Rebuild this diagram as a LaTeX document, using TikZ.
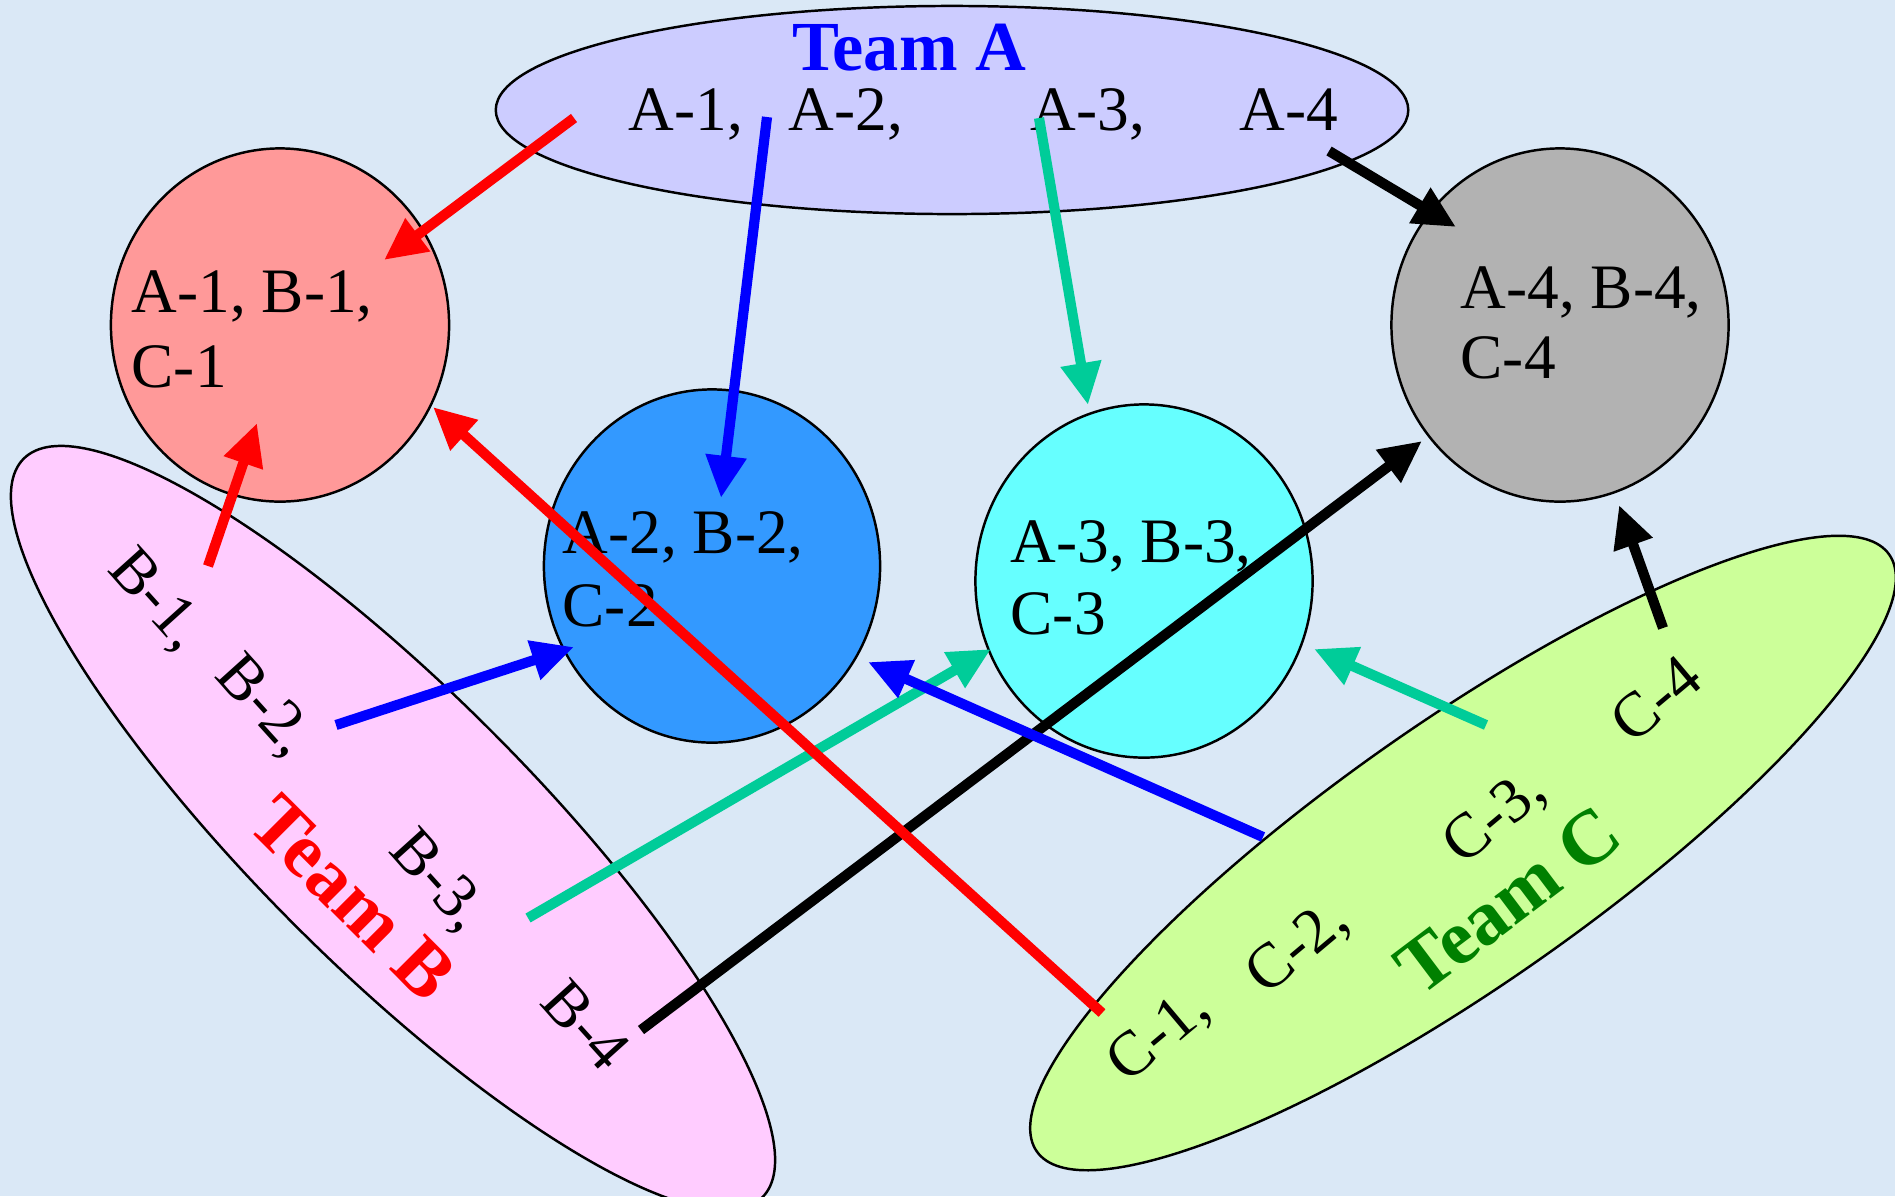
\documentclass[tikz,border=0pt]{standalone}
\usepackage{fontspec}
\setmainfont{Liberation Serif}
\usetikzlibrary{shapes.geometric,arrows.meta}
\definecolor{bgc}{RGB}{218,232,246}
\definecolor{teamAc}{RGB}{204,204,255}
\definecolor{teamBc}{RGB}{255,204,255}
\definecolor{teamCc}{RGB}{204,255,153}
\definecolor{pinkc}{RGB}{255,153,153}
\definecolor{bluec}{RGB}{51,153,255}
\definecolor{cyanc}{RGB}{102,255,255}
\definecolor{grayc}{RGB}{178,178,178}
\definecolor{tealc}{RGB}{0,204,153}
\definecolor{greenc}{RGB}{0,128,0}
\begin{document}
\begin{tikzpicture}[x=0.01cm,y=-0.01cm,
  blob/.style={ellipse,draw=black,line width=0.7pt,inner sep=0pt},
  member/.style={font=\fontsize{18}{21}\selectfont,inner sep=0pt},
  teamtitle/.style={font=\fontsize{22}{26}\selectfont\bfseries,inner sep=0pt},
  link/.style={line width=2.9pt,-{Triangle[length=12pt,width=11pt]}},
]
\fill[bgc] (0,0) rectangle (1895,1196);
\useasboundingbox (0,0) rectangle (1895,1196);

% Team A
\node[blob,fill=teamAc,minimum width=9.12cm,minimum height=2.08cm] (teamA) at (952,110) {};
\node[teamtitle,text=blue,font=\fontsize{20}{24}\selectfont\bfseries] (titleA) at (909,48) {Team A};
\node[member,anchor=base west] (mA1) at (628,130) {A-1,};
\node[member,anchor=base west] (mA2) at (788,130) {A-2,};
\node[member,anchor=base west] (mA3) at (1030,130) {A-3,};
\node[member,anchor=base west] (mA4) at (1239,130) {A-4};

% Team B
\node[blob,fill=teamBc,minimum width=10.44cm,minimum height=2.76cm,rotate=-45] (teamB) at (393,828) {};
\node[member,rotate=-48] (mB1) at (155,601) {B-1,};
\node[member,rotate=-48] (mB2) at (263,707) {B-2,};
\node[member,rotate=-48] (mB3) at (437,882) {B-3,};
\node[member,rotate=-48] (mB4) at (586,1025) {B-4};
\node[teamtitle,text=red,rotate=-45] (titleB) at (353,898) {Team B};

% Team C
\node[blob,fill=teamCc,minimum width=10.4cm,minimum height=2.62cm,rotate=35] (teamC) at (1463,853) {};
\node[member,rotate=40] (mC1) at (1160,1037) {C-1,};
\node[member,rotate=40] (mC2) at (1299,949) {C-2,};
\node[member,rotate=40] (mC3) at (1496,819) {C-3,};
\node[member,rotate=40] (mC4) at (1656,699) {C-4};
\node[teamtitle,text=greenc,rotate=37] (titleC) at (1508,900) {Team C};

% Groups
\node[blob,fill=pinkc,minimum width=3.38cm,minimum height=3.53cm] (g1) at (280,325) {};
\node[blob,fill=bluec,minimum width=3.36cm,minimum height=3.53cm] (g2) at (712,566) {};
\node[blob,fill=cyanc,minimum width=3.37cm,minimum height=3.53cm] (g3) at (1144,581) {};
\node[blob,fill=grayc,minimum width=3.37cm,minimum height=3.53cm] (g4) at (1560,325) {};
\node[member,anchor=base west] (g1a) at (131,312) {A-1, B-1,};
\node[member,anchor=base west] (g1b) at (131,387) {C-1};
\node[member,anchor=base west] (g2a) at (562,553) {A-2, B-2,};
\node[member,anchor=base west] (g2b) at (562,626) {C-2};
\node[member,anchor=base west] (g3a) at (1010,562) {A-3, B-3,};
\node[member,anchor=base west] (g3b) at (1010,634) {C-3};
\node[member,anchor=base west] (g4a) at (1460,308) {A-4, B-4,};
\node[member,anchor=base west] (g4b) at (1460,378) {C-4};

% arrow end points
\coordinate (sA1) at (574,118);  \coordinate (eA1) at (384,260);
\coordinate (sA2) at (767,117);  \coordinate (eA2) at (721,498);
\coordinate (sA3) at (1039,118); \coordinate (eA3) at (1088,405);
\coordinate (sA4) at (1329,151); \coordinate (eA4) at (1456,227);
\coordinate (sB1) at (208,566);  \coordinate (eB1) at (257,423);
\coordinate (sB2) at (336,725);  \coordinate (eB2) at (574,647);
\coordinate (sB3) at (528,918);  \coordinate (eB3) at (991,649);
\coordinate (sB4) at (641,1030); \coordinate (eB4) at (1422,441);
\coordinate (sC1) at (1102,1013);\coordinate (eC1) at (433,407);
\coordinate (sC2) at (1263,837); \coordinate (eC2) at (868,662);
\coordinate (sC3) at (1486,725); \coordinate (eC3) at (1314,649);
\coordinate (sC4) at (1663,628); \coordinate (eC4) at (1619,505);

\draw[link,tealc] (sA3) -- (eA3);
\draw[link,tealc] (sB3) -- (eB3);
\draw[link,tealc] (sC3) -- (eC3);
\draw[link,black] (sA4) -- (eA4);
\draw[link,black] (sB4) -- (eB4);
\draw[link,black] (sC4) -- (eC4);
\draw[link,blue] (sA2) -- (eA2);
\draw[link,blue] (sB2) -- (eB2);
\draw[link,blue] (sC2) -- (eC2);
\draw[link,red] (sA1) -- (eA1);
\draw[link,red] (sB1) -- (eB1);
\draw[link,red] (sC1) -- (eC1);
\end{tikzpicture}
\end{document}
